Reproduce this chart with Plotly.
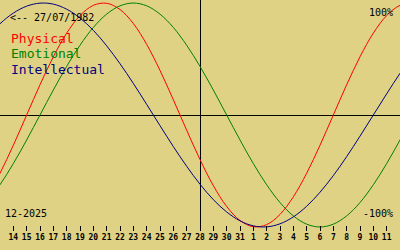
import plotly.graph_objects as go

# Day offsets relative to the "today" line (28-12-2025)
day_offsets = list(range(-16, 17))

physical = [-0.731, -0.520, -0.270, 0.000, 0.270, 0.520, 0.731, 0.888, 0.979, 0.998,
            0.942, 0.817, 0.631, 0.398, 0.136, -0.136, -0.398, -0.631, -0.817, -0.942,
            -0.998, -0.979, -0.888, -0.731, -0.520, -0.270, 0.000, 0.270, 0.520, 0.731,
            0.888, 0.979, 0.998]
emotional = [-0.782, -0.623, -0.434, -0.223, 0.000, 0.223, 0.434, 0.623, 0.782, 0.901,
             0.975, 1.000, 0.975, 0.901, 0.782, 0.623, 0.434, 0.223, 0.000, -0.223,
             -0.434, -0.623, -0.782, -0.901, -0.975, -1.000, -0.975, -0.901, -0.782, -0.623,
             -0.434, -0.223, 0.000]
intellectual = [0.690, 0.815, 0.910, 0.972, 0.999, 0.990, 0.945, 0.866, 0.756, 0.618,
                0.458, 0.282, 0.095, -0.095, -0.282, -0.458, -0.618, -0.756, -0.866, -0.945,
                -0.990, -0.999, -0.972, -0.910, -0.815, -0.690, -0.541, -0.372, -0.189, 0.000,
                0.189, 0.372, 0.541]

tick_offsets = list(range(-14, 15))
tick_labels = ["14", "15", "16", "17", "18", "19", "20", "21", "22", "23", "24", "25", "26",
               "27", "28", "29", "30", "31", "1", "2", "3", "4", "5", "6", "7", "8", "9",
               "10", "11"]

series_names = ["Physical", "Emotional", "Intellectual"]
series_colors = ["#ff0000", "#008000", "#000080"]
series_values = [physical, emotional, intellectual]

BG = "#e0d284"
MONO = "DejaVu Sans Mono"

fig = go.Figure()
for name, color, vals in zip(series_names, series_colors, series_values):
    fig.add_trace(go.Scatter(x=day_offsets, y=vals, mode="lines", name=name,
                             line=dict(color=color, width=1, shape="spline", smoothing=1),
                             hoverinfo="skip"))

annotations = []
for i, (name, color) in enumerate(zip(series_names, series_colors)):
    annotations.append(dict(text=name, xref="paper", yref="paper", x=9 / 400,
                            y=1 - (38.5 + 15.5 * i) / 231, xanchor="left", yanchor="middle",
                            showarrow=False, font=dict(family=MONO, size=13, color=color)))
annotations += [
    dict(text="<-- 27/07/1982", xref="paper", yref="paper", x=8 / 400, y=1 - 17 / 231,
         xanchor="left", yanchor="middle", showarrow=False,
         font=dict(family=MONO, size=10, color="black")),
    dict(text="100%", xref="paper", yref="paper", x=395 / 400, y=1 - 12 / 231,
         xanchor="right", yanchor="middle", showarrow=False,
         font=dict(family=MONO, size=10, color="black")),
    dict(text="-100%", xref="paper", yref="paper", x=395 / 400, y=1 - 213 / 231,
         xanchor="right", yanchor="middle", showarrow=False,
         font=dict(family=MONO, size=10, color="black")),
    dict(text="12-2025", xref="paper", yref="paper", x=3 / 400, y=1 - 213 / 231,
         xanchor="left", yanchor="middle", showarrow=False,
         font=dict(family=MONO, size=10, color="black")),
]

fig.update_layout(
    width=400, height=250,
    margin=dict(l=0, r=0, t=0, b=19, pad=0),
    paper_bgcolor=BG, plot_bgcolor=BG,
    showlegend=False,
    annotations=annotations,
    xaxis=dict(range=[-15, 15], tickvals=tick_offsets, ticktext=tick_labels,
               ticks="inside", ticklen=5, tickwidth=1, tickcolor="black",
               showgrid=False, showline=False,
               zeroline=True, zerolinecolor="black", zerolinewidth=1,
               tickfont=dict(family=MONO, size=8, color="black", weight="bold"),
               fixedrange=True),
    yaxis=dict(range=[-1.036, 1.027], showgrid=False, showticklabels=False, ticks="",
               zeroline=True, zerolinecolor="black", zerolinewidth=1, fixedrange=True),
    hovermode=False,
)

fig.write_html("out.html", config={"displayModeBar": False, "staticPlot": True})
